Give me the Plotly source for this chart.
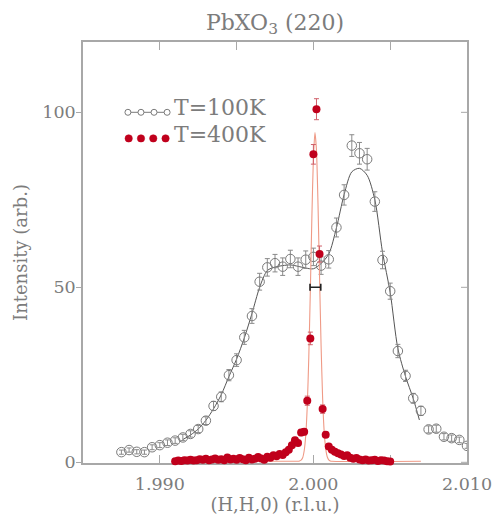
import plotly.graph_objects as go

# ---- T = 100 K scan along (H,H,0) ----
h_100 = [1.9875, 1.9880, 1.9885, 1.9890, 1.9895, 1.9900, 1.9905, 1.9910, 1.9915, 1.9920,
         1.9925, 1.9930, 1.9935, 1.9940, 1.9945, 1.9950, 1.9955, 1.9960, 1.9965, 1.9970,
         1.9975, 1.9980, 1.9985, 1.9990, 1.9995, 2.0000, 2.0005, 2.0010, 2.0015, 2.0020,
         2.0025, 2.0030, 2.0035, 2.0040, 2.0045, 2.0050, 2.0055, 2.0060, 2.0065, 2.0070,
         2.0075, 2.0080, 2.0085, 2.0090, 2.0095, 2.0100]
i_100 = [2.9, 3.5, 3.0, 2.9, 4.3, 4.9, 5.6, 6.2, 7.1, 8.1,
         9.5, 11.9, 16.1, 18.7, 24.9, 29.2, 35.7, 41.8, 51.6, 55.7,
         56.9, 55.9, 58.1, 55.9, 57.9, 58.7, 56.2, 58.0, 67.1, 76.4,
         90.5, 88.3, 86.6, 74.5, 57.8, 48.9, 31.8, 24.7, 18.3, 14.7,
         9.4, 9.6, 7.3, 6.9, 6.4, 4.7]
err_100 = [0.6, 0.6, 0.6, 0.6, 0.7, 0.7, 0.8, 0.8, 0.9, 0.9,
           1.0, 1.1, 1.3, 1.4, 1.6, 1.8, 2.0, 2.1, 2.4, 2.5,
           2.5, 2.5, 2.5, 2.5, 2.5, 2.5, 2.5, 2.5, 2.7, 2.9,
           3.1, 3.1, 3.1, 2.8, 2.5, 2.3, 1.9, 1.6, 1.4, 1.3,
           1.0, 1.0, 0.9, 0.9, 0.8, 0.7]

# two-component fit to the 100 K profile
fit_h_100 = [1.9915, 1.9920, 1.9925, 1.9930, 1.9935, 1.9940, 1.9945, 1.9950, 1.9955, 1.9960,
             1.9965, 1.9970, 1.9975, 1.9980, 1.9985, 1.9990, 1.9995, 2.0000, 2.0005, 2.0010,
             2.0015, 2.0020, 2.0025, 2.0030, 2.0035, 2.0040, 2.0045, 2.0050, 2.0055, 2.0060,
             2.0065, 2.0069]
fit_i_100 = [6.5, 7.8, 9.5, 12.0, 15.3, 19.3, 24.5, 29.5, 35.5, 42.5,
             50.0, 54.8, 55.8, 56.2, 56.4, 56.0, 55.5, 55.3, 56.8, 59.5,
             67.0, 76.5, 83.0, 84.0, 82.0, 75.0, 60.0, 48.5, 32.5, 24.5,
             18.2, 12.1]

# ---- T = 400 K scan ----
h_400 = [1.9910, 1.9912, 1.9914, 1.9916, 1.9918, 1.9920, 1.9922, 1.9924, 1.9926, 1.9928,
         1.9930, 1.9932, 1.9934, 1.9936, 1.9938, 1.9940, 1.9942, 1.9944, 1.9946, 1.9948,
         1.9950, 1.9952, 1.9954, 1.9956, 1.9958, 1.9960, 1.9962, 1.9964, 1.9966, 1.9968,
         1.9970, 1.9972, 1.9974, 1.9976, 1.9978, 1.9980, 1.9982, 1.9984, 1.9986, 1.9988,
         1.9990, 1.9992, 1.9994, 1.9996, 1.9998, 2.0000, 2.0002, 2.0004, 2.0006, 2.0008,
         2.0010, 2.0012, 2.0014, 2.0016, 2.0018, 2.0020, 2.0022, 2.0024, 2.0026, 2.0028,
         2.0030, 2.0032, 2.0034, 2.0036, 2.0038, 2.0040, 2.0042, 2.0044, 2.0046, 2.0048,
         2.0050]
i_400 = [0.3, 0.5, 0.4, 0.6, 0.5, 0.7, 0.5, 0.6, 0.9, 0.7,
         1.0, 0.6, 0.8, 1.1, 0.7, 0.9, 0.6, 1.4, 0.8, 1.0,
         0.7, 1.2, 0.9, 0.6, 1.3, 0.8, 1.0, 1.5, 1.1, 0.7,
         1.6, 1.3, 2.0, 1.7, 2.4, 2.1, 2.9, 3.6, 4.9, 6.3,
         5.5, 8.5, 8.7, 17.6, 35.4, 88.0, 100.9, 59.5, 15.2, 7.9,
         4.5, 3.6, 3.0, 2.6, 2.2, 1.8, 2.0, 1.3, 1.0, 1.2,
         0.8, 0.6, 0.8, 0.5, 0.6, 0.7, 0.4, 0.6, 0.5, 0.3,
         0.2]
err_400 = [0.2, 0.2, 0.2, 0.2, 0.2, 0.3, 0.2, 0.2, 0.3, 0.3,
           0.3, 0.2, 0.3, 0.3, 0.3, 0.3, 0.2, 0.4, 0.3, 0.3,
           0.3, 0.3, 0.3, 0.2, 0.3, 0.3, 0.3, 0.4, 0.3, 0.3,
           0.4, 0.3, 0.4, 0.4, 0.5, 0.4, 0.5, 0.6, 0.7, 0.8,
           0.7, 0.9, 0.9, 1.3, 1.8, 2.8, 3.0, 2.3, 1.2, 0.8,
           0.6, 0.6, 0.5, 0.5, 0.4, 0.4, 0.4, 0.3, 0.3, 0.3,
           0.3, 0.2, 0.3, 0.2, 0.2, 0.3, 0.2, 0.2, 0.2, 0.2,
           0.2]

# narrow fit to the 400 K Bragg peak
fit_h_400 = [1.9910, 1.9985, 1.9990, 1.9991, 1.9992, 1.9993, 1.9994, 1.9995, 1.9996, 1.9997,
             1.9998, 1.9999, 2.0000, 2.0001, 2.0002, 2.0003, 2.0004, 2.0005, 2.0006, 2.0007,
             2.0008, 2.0009, 2.0010, 2.0011, 2.0012, 2.0070]
fit_i_400 = [0.3, 0.3, 0.3, 0.4, 0.6, 1.3, 3.3, 7.6, 16.1, 30.0,
             48.9, 69.8, 86.8, 94.2, 89.2, 73.7, 53.1, 33.4, 18.4, 8.9,
             3.9, 1.6, 0.7, 0.4, 0.3, 0.3]

# instrumental resolution bar
res_h = [2.00013]
res_i = [50.0]
res_half = [0.00035]

# axis ticks
x_major = [1.990, 2.000, 2.010]
x_labels = ["1.990", "2.000", "2.010"]
x_minor = [1.995, 2.005]
y_major = [0, 50, 100]

TEXT = "#7c7c7c"
AXIS = "#a8a8a8"
FONT = "DejaVu Serif"
GREY_PT = "#7a7a7a"
RED_PT = "#c0001c"
RED_FIT = "#ef9a86"

PLOT_W = 384  # plot-area width in px, used for pixel-length tick marks

fig = go.Figure()

fig.add_trace(go.Scatter(
    x=fit_h_100, y=fit_i_100, mode="lines",
    line=dict(color="#555555", width=1, shape="spline", smoothing=0.8),
    hoverinfo="skip"))

fig.add_trace(go.Scatter(
    x=h_100, y=i_100, mode="markers", name="T=100K",
    marker=dict(symbol="circle-open", size=9.5, color=GREY_PT, line=dict(width=1, color=GREY_PT)),
    error_y=dict(type="data", array=err_100, color="#8a8a8a", thickness=1, width=2.5)))

fig.add_trace(go.Scatter(
    x=fit_h_400, y=fit_i_400, mode="lines",
    line=dict(color=RED_FIT, width=1.1, shape="spline", smoothing=0.6),
    hoverinfo="skip"))

fig.add_trace(go.Scatter(
    x=h_400, y=i_400, mode="markers", name="T=400K", cliponaxis=False,
    marker=dict(symbol="circle", size=8, color=RED_PT),
    error_y=dict(type="data", array=err_400, color="#d0606a", thickness=1, width=2.5)))

fig.add_trace(go.Scatter(
    x=res_h, y=res_i, mode="markers",
    marker=dict(size=1, color="rgba(0,0,0,0)"),
    error_x=dict(type="data", array=res_half, color="#222222", thickness=1.6, width=3.5),
    hoverinfo="skip"))

# inward tick marks on the right-hand frame
for yv in y_major:
    fig.add_shape(type="line", xref="paper", yref="y", x0=1, x1=1 - 6 / PLOT_W, y0=yv, y1=yv,
                  line=dict(color=AXIS, width=1), layer="below")

# legend key glyphs
key_100_x = [0.117, 0.151, 0.185, 0.219]
key_400_x = [0.119, 0.151, 0.183, 0.215]
key_100_y = 0.833
key_400_y = 0.771
fig.add_shape(type="line", xref="paper", yref="paper", x0=key_100_x[0], x1=key_100_x[-1],
              y0=key_100_y, y1=key_100_y, line=dict(color=GREY_PT, width=1))
for kx in key_100_x:
    fig.add_shape(type="circle", xref="paper", yref="paper", xsizemode="pixel", ysizemode="pixel",
                  xanchor=kx, yanchor=key_100_y, x0=-3, x1=3, y0=-3, y1=3,
                  fillcolor="white", line=dict(color=GREY_PT, width=1))
for kx in key_400_x:
    fig.add_shape(type="circle", xref="paper", yref="paper", xsizemode="pixel", ysizemode="pixel",
                  xanchor=kx, yanchor=key_400_y, x0=-3.7, x1=3.7, y0=-3.7, y1=3.7,
                  fillcolor=RED_PT, line=dict(color=RED_PT, width=0.5))

fig.add_annotation(x=0.232, y=0.845, xref="paper", yref="paper", xanchor="left", yanchor="middle",
                   text="T=100K", showarrow=False, font=dict(family=FONT, size=22, color=TEXT))
fig.add_annotation(x=0.232, y=0.781, xref="paper", yref="paper", xanchor="left", yanchor="middle",
                   text="T=400K", showarrow=False, font=dict(family=FONT, size=22, color=TEXT))

fig.update_layout(
    width=494, height=517,
    margin=dict(l=83, r=27, t=42, b=54),
    paper_bgcolor="white", plot_bgcolor="white",
    showlegend=False,
    font=dict(family=FONT, color=TEXT),
    title=dict(text="PbXO<sub>3</sub> (220)", x=0.5, xref="paper", xanchor="center",
               y=1 - 22 / 517, yref="container", yanchor="middle",
               font=dict(family=FONT, size=22, color=TEXT)),
    xaxis=dict(range=[1.985, 2.010], automargin=False,
               tickvals=x_major, ticktext=x_labels,
               ticks="inside", ticklen=8, tickwidth=1, tickcolor=AXIS,
               minor=dict(tickvals=x_minor, ticks="inside", ticklen=8, tickwidth=1,
                          tickcolor=AXIS, showgrid=False),
               showline=True, linecolor=AXIS, linewidth=1.5, mirror="allticks",
               showgrid=False, zeroline=False, layer="below traces",
               ticklabelstandoff=4,
               tickfont=dict(family=FONT, size=17.5, color=TEXT),
               title=dict(text="(H,H,0) (r.l.u.)", standoff=3,
                          font=dict(family=FONT, size=18, color=TEXT))),
    yaxis=dict(range=[-0.2, 120.1], automargin=False, tickvals=y_major,
               ticks="outside", ticklen=5, tickwidth=1, tickcolor=AXIS,
               showline=True, linecolor=AXIS, linewidth=1.5, mirror=True,
               showgrid=False, zeroline=False, layer="below traces",
               ticklabelstandoff=-3,
               tickfont=dict(family=FONT, size=17.5, color=TEXT),
               title=dict(text="Intensity (arb.)", standoff=10,
                          font=dict(family=FONT, size=18, color=TEXT))),
)

fig.write_html("out.html")
